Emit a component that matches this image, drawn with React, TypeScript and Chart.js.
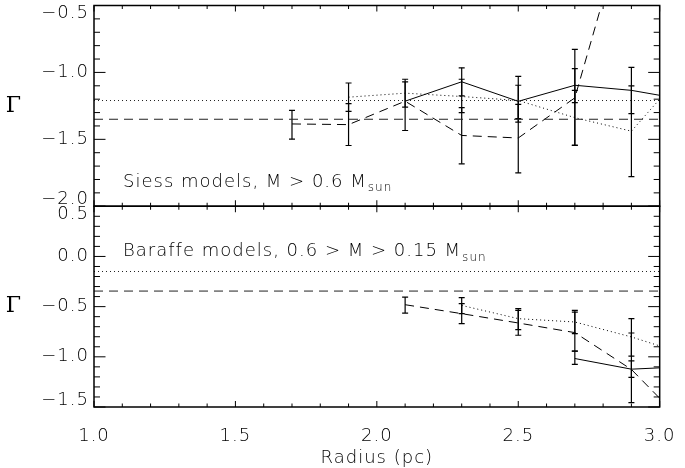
import React, { useEffect, useRef } from 'react';
import { Chart, registerables } from 'chart.js';
Chart.register(...registerables);

// Radius bins (pc)
const radiusPc = [1.7, 1.9, 2.1, 2.3, 2.5, 2.7, 2.9, 3.1];

// Top panel: Siess models, M > 0.6 Msun
const siessSolid = [null, null, -1.215, -1.07, -1.216, -1.096, -1.134, -1.208];
const siessSolidLo = [null, null, null, -1.176, -1.346, -1.226, -1.308, null];
const siessSolidHi = [null, null, null, -0.966, -1.096, -0.971, -0.963, null];
const siessDotted = [null, -1.185, -1.155, -1.18, -1.21, -1.338, -1.439, -0.96];
const siessDottedLo = [null, -1.291, -1.259, -1.301, -1.371, -1.543, -1.779, null];
const siessDottedHi = [null, -1.079, -1.051, -1.051, -1.029, -1.134, -1.101, null];
const siessDashed = [-1.385, -1.39, -1.215, -1.471, -1.49, -1.19, 0.28, null];
const siessDashedLo = [-1.499, -1.546, -1.434, -1.683, -1.751, -1.546, null, null];
const siessDashedHi = [-1.284, -1.233, -1.071, -1.263, -1.239, -0.828, null, null];
const siessDottedRef = -1.21;
const siessDashedRef = -1.35;

// Bottom panel: Baraffe models, 0.6 > M > 0.15 Msun
const baraffeSolid = [null, null, null, null, null, -1.017, -1.123, -1.097];
const baraffeSolidLo = [null, null, null, null, null, -1.076, -1.205, null];
const baraffeSolidHi = [null, null, null, null, null, -0.944, -1.04, null];
const baraffeDotted = [null, null, null, -0.488, -0.62, -0.653, -0.802, -0.981];
const baraffeDottedLo = [null, null, null, -0.57, -0.729, -0.768, -0.994, null];
const baraffeDottedHi = [null, null, null, -0.411, -0.52, -0.537, -0.62, null];
const baraffeDashed = [null, null, -0.481, -0.57, -0.663, -0.759, -1.126, -1.7];
const baraffeDashedLo = [null, null, -0.564, -0.669, -0.785, -0.944, -1.457, null];
const baraffeDashedHi = [null, null, -0.405, -0.471, -0.537, -0.554, -0.763, null];
const baraffeDottedRef = -0.15;
const baraffeDashedRef = -0.345;

// Axes
const xRange = [1.0, 3.0];
const xTicks = [1.0, 1.5, 2.0, 2.5, 3.0];
const siessRange = [-2.0, -0.5];
const siessTicks = [-2.0, -1.5, -1.0, -0.5];
const baraffeRange = [-1.5, 0.5];
const baraffeTicks = [-1.5, -1.0, -0.5, 0.0, 0.5];

const siessLabel = 'Siess models, M > 0.6 M';
const baraffeLabel = 'Baraffe models, 0.6 > M > 0.15 M';
const sunLabel = 'sun';
const xTitle = 'Radius (pc)';
const yTitle = 'Γ';

const FONT = "'DejaVu Sans', sans-serif";
const WEIGHT = '200';
const INK = '#000';
const DASH = [9, 6];
const DOT = [1, 3];

function toPts(vals: (number | null)[]) {
  const out: { x: number; y: number }[] = [];
  radiusPc.forEach((x, i) => {
    const v = vals[i];
    if (v !== null && v !== undefined) out.push({ x, y: v });
  });
  return out;
}

function lineDs(vals: (number | null)[], axis: string, dash: number[]) {
  return {
    data: toPts(vals),
    yAxisID: axis,
    borderColor: '#000',
    borderWidth: 1,
    borderDash: dash,
    pointRadius: 0,
    fill: false,
    tension: 0,
  };
}

function refDs(v: number, axis: string, dash: number[]) {
  return {
    data: [{ x: xRange[0], y: v }, { x: xRange[1], y: v }],
    yAxisID: axis,
    borderColor: '#222',
    borderWidth: 1,
    borderDash: dash,
    pointRadius: 0,
    fill: false,
  };
}

function errDs(lo: (number | null)[], hi: (number | null)[], axis: string) {
  const out: any[] = [];
  radiusPc.forEach((x, i) => {
    const a = lo[i];
    const b = hi[i];
    if (a === null || b === null) return;
    out.push({
      data: [{ x, y: a }, { x, y: b }],
      yAxisID: axis,
      borderColor: '#000',
      borderWidth: 1.2,
      pointStyle: 'line',
      pointRadius: 3,
      pointBorderWidth: 1.2,
      pointBorderColor: '#000',
      pointBackgroundColor: '#000',
      fill: false,
    });
  });
  return out;
}

function fmt(v: number) {
  const s = Math.abs(v).toFixed(1);
  return v < -1e-9 ? '\u2212' + s : s;
}

const decor = {
  id: 'decor',
  beforeDraw(chart: any) {
    try { chart.ctx.letterSpacing = '1px'; } catch (e) {}
  },
  afterDraw(chart: any) {
    const ctx = chart.ctx;
    const xs = chart.scales.x;
    const panels = [
      { s: chart.scales.yTop, ticks: siessTicks },
      { s: chart.scales.yBot, ticks: baraffeTicks },
    ];
    ctx.save();
    ctx.strokeStyle = '#000';
    ctx.setLineDash([]);
    const seg = (x1: number, y1: number, x2: number, y2: number) => {
      ctx.beginPath();
      ctx.moveTo(x1, y1);
      ctx.lineTo(x2, y2);
      ctx.stroke();
    };
    const L = xs.left;
    const R = xs.right;
    for (const p of panels) {
      const ys = p.s;
      const T = ys.top;
      const B = ys.bottom;
      ctx.lineWidth = 1;
      const nx = Math.round((xRange[1] - xRange[0]) / 0.1);
      for (let k = 0; k <= nx; k++) {
        const v = xRange[0] + k * 0.1;
        const px = xs.getPixelForValue(v);
        const len = k % 5 === 0 ? 6 : 3.5;
        seg(px, B, px, B - len);
        seg(px, T, px, T + len);
      }
      const ny = Math.round((ys.max - ys.min) / 0.1);
      for (let k = 0; k <= ny; k++) {
        const v = ys.min + k * 0.1;
        const py = ys.getPixelForValue(v);
        const major = Math.abs(v / 0.5 - Math.round(v / 0.5)) < 1e-6;
        const len = major ? 11.5 : 6;
        seg(L, py, L + len, py);
        seg(R, py, R - len, py);
      }
      ctx.lineWidth = 1.5;
      ctx.strokeRect(L, T, R - L, B - T);

      // y tick labels
      ctx.fillStyle = INK;
      ctx.font = `${WEIGHT} 18px ${FONT}`;
      ctx.textAlign = 'right';
      ctx.textBaseline = 'middle';
      for (const v of p.ticks) {
        const py = ys.getPixelForValue(v);
        let ty = py;
        if (py - T < 8) ty = T + 8;
        if (B - py < 8) ty = B - 7;
        ctx.fillText(fmt(v), 89, ty);
      }
      // y title
      ctx.save();
      ctx.font = `22px 'DejaVu Serif', serif`;
      ctx.textAlign = 'center';
      ctx.textBaseline = 'middle';
      ctx.fillText(yTitle, 14, (T + B) / 2);
      ctx.restore();
    }

    // annotations
    const drawLabel = (text: string, x: number, baseY: number) => {
      ctx.font = `${WEIGHT} 18px ${FONT}`;
      ctx.textAlign = 'left';
      ctx.textBaseline = 'alphabetic';
      ctx.fillText(text, x, baseY);
      const w = ctx.measureText(text).width;
      ctx.font = `${WEIGHT} 12px ${FONT}`;
      ctx.fillText(sunLabel, x + w + 1, baseY + 4.5);
    };
    drawLabel(siessLabel, 123, chart.scales.yTop.getPixelForValue(-1.855));
    drawLabel(baraffeLabel, 123, chart.scales.yBot.getPixelForValue(0.0));
    ctx.restore();
  },
};

export default function App() {
  const ref = useRef<HTMLCanvasElement>(null);
  useEffect(() => {
    const datasets: any[] = [
      refDs(siessDottedRef, 'yTop', DOT),
      refDs(siessDashedRef, 'yTop', DASH),
      lineDs(siessSolid, 'yTop', []),
      lineDs(siessDotted, 'yTop', DOT),
      lineDs(siessDashed, 'yTop', DASH),
      ...errDs(siessSolidLo, siessSolidHi, 'yTop'),
      ...errDs(siessDottedLo, siessDottedHi, 'yTop'),
      ...errDs(siessDashedLo, siessDashedHi, 'yTop'),
      refDs(baraffeDottedRef, 'yBot', DOT),
      refDs(baraffeDashedRef, 'yBot', DASH),
      lineDs(baraffeSolid, 'yBot', []),
      lineDs(baraffeDotted, 'yBot', DOT),
      lineDs(baraffeDashed, 'yBot', DASH),
      ...errDs(baraffeSolidLo, baraffeSolidHi, 'yBot'),
      ...errDs(baraffeDottedLo, baraffeDottedHi, 'yBot'),
      ...errDs(baraffeDashedLo, baraffeDashedHi, 'yBot'),
    ];
    const yCommon = (range: number[]) => ({
      type: 'linear',
      min: range[0],
      max: range[1],
      position: 'left',
      stack: 'panels',
      stackWeight: 1,
      grid: { display: false },
      border: { display: false },
      ticks: { display: false },
      afterFit: (s: any) => {
        s.width = 94;
        s.paddingTop = 0;
        s.paddingBottom = 0;
      },
    });
    const chart = new Chart(ref.current!, {
      type: 'line',
      data: { datasets },
      options: {
        responsive: false,
        animation: false,
        events: [],
        layout: { padding: { top: 5.5, right: 16, left: 0, bottom: 0 } },
        plugins: { legend: { display: false }, tooltip: { enabled: false } },
        scales: {
          x: {
            type: 'linear',
            min: xRange[0],
            max: xRange[1],
            grid: { display: false },
            border: { display: false },
            afterBuildTicks: (s: any) => {
              s.ticks = xTicks.map((value) => ({ value }));
            },
            ticks: {
              autoSkip: false,
              maxRotation: 0,
              padding: 11,
              color: INK,
              font: { family: FONT, size: 18, weight: WEIGHT },
              callback: (v: any) => Number(v).toFixed(1),
            },
            title: {
              display: true,
              text: xTitle,
              color: INK,
              font: { family: FONT, size: 18, weight: WEIGHT },
              padding: { top: 0, bottom: -1 },
            },
            afterFit: (s: any) => {
              s.height = 61;
            },
          },
          yBot: yCommon(baraffeRange),
          yTop: yCommon(siessRange),
        },
      } as any,
      plugins: [decor],
    } as any);
    return () => chart.destroy();
  }, []);
  return (
    <div style={{ position: 'fixed', left: 0, top: 0, width: 685, height: 468, background: '#fff' }}>
      <canvas ref={ref} width={685} height={468} style={{ display: 'block' }} />
    </div>
  );
}
